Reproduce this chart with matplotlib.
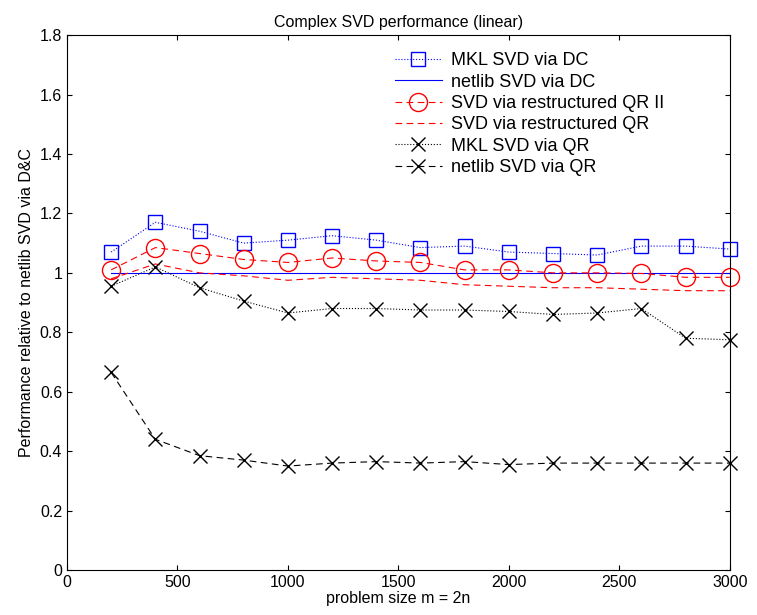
import matplotlib
matplotlib.use("Agg")
import matplotlib.pyplot as plt
import numpy as np

plt.rcParams['font.family'] = ['Liberation Sans', 'DejaVu Sans']

# problem sizes
m = np.arange(200, 3001, 200)

mkl_dc = [1.07, 1.17, 1.14, 1.10, 1.11, 1.125, 1.11, 1.085, 1.09, 1.07, 1.065, 1.06, 1.09, 1.09, 1.08]
netlib_dc = [1.0] * 15
qr2 = [1.01, 1.085, 1.065, 1.045, 1.035, 1.05, 1.04, 1.035, 1.01, 1.01, 1.0, 1.0, 0.998, 0.985, 0.985]
qr = [0.98, 1.03, 1.0, 0.99, 0.975, 0.985, 0.98, 0.975, 0.96, 0.955, 0.95, 0.95, 0.945, 0.94, 0.94]
mkl_qr = [0.955, 1.02, 0.95, 0.905, 0.865, 0.88, 0.88, 0.875, 0.875, 0.87, 0.86, 0.865, 0.88, 0.78, 0.775]
netlib_qr = [0.665, 0.44, 0.385, 0.37, 0.35, 0.36, 0.365, 0.36, 0.365, 0.355, 0.36, 0.36, 0.36, 0.36, 0.36]

f = plt.figure(figsize=(7.57, 6.15), dpi=100)
ax = f.add_axes([0.0885, 0.073, 0.8755, 0.87])

ax.plot(m, mkl_dc, 's:', color='b', mfc='none', ms=10, lw=0.8, clip_on=False, label="MKL SVD via DC")
ax.plot(m, netlib_dc, '-', color='b', lw=0.8, label="netlib SVD via DC")
ax.plot(m, qr2, 'o--', color='r', mfc='none', ms=13, lw=0.8, dashes=(6, 4), clip_on=False, label="SVD via restructured QR II")
ax.plot(m, qr, '--', color='r', lw=0.8, dashes=(6, 4), label="SVD via restructured QR")
ax.plot(m, mkl_qr, 'x:', color='k', ms=10, lw=0.8, clip_on=False, label="MKL SVD via QR")
ax.plot(m, netlib_qr, 'x--', color='k', ms=10, lw=0.8, dashes=(6, 4), clip_on=False, label="netlib SVD via QR")

ax.set_xlim(0, 3000)
ax.set_ylim(0, 1.8)
ax.set_xticks(np.arange(0, 3001, 500))
ax.set_yticks(np.arange(0, 1.81, 0.2))
ax.set_yticklabels(["0", "0.2", "0.4", "0.6", "0.8", "1", "1.2", "1.4", "1.6", "1.8"])
ax.tick_params(direction='in', top=True, right=True, labelsize=11.5)
ax.set_xlabel("problem size m = 2n", fontsize=11.5, labelpad=1)
ax.set_ylabel("Performance relative to netlib SVD via D&C", fontsize=11.5)
ax.set_title("Complex SVD performance (linear)", fontsize=11.5)

ax.legend(loc='upper right', bbox_to_anchor=(0.925, 0.998), frameon=False, fontsize=13,
          handlelength=2.6, handletextpad=0.5, labelspacing=0.24)

plt.savefig("out.png")
